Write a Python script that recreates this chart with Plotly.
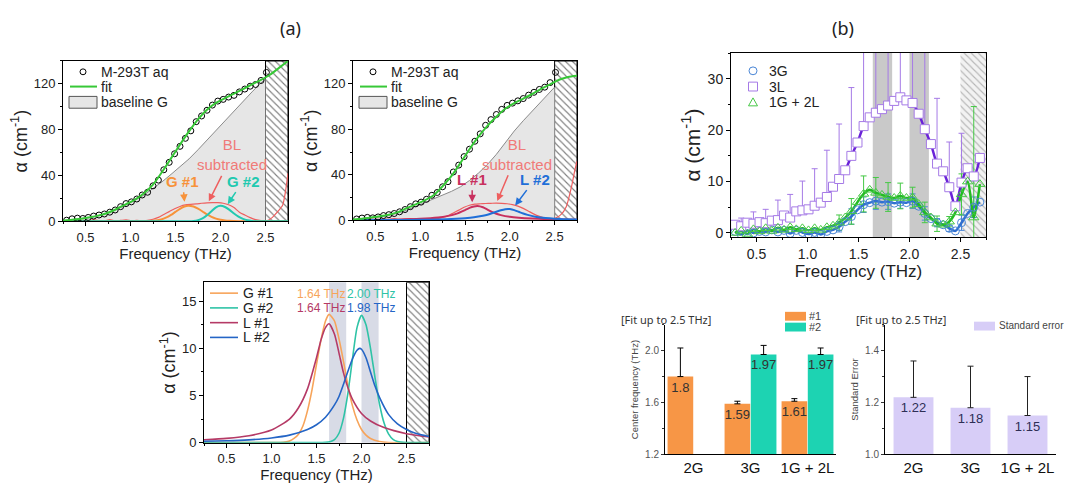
import plotly.graph_objects as go

W, H = 1077, 491
FONT = "Liberation Sans"

# ---------------- data ----------------
# measured absorption points (THz) for panels a1 / a2
freq_pts = [0.29, 0.35, 0.41, 0.47, 0.53, 0.59, 0.65, 0.71, 0.77, 0.83, 0.89, 0.95,
            1.01, 1.07, 1.13, 1.19, 1.25, 1.31, 1.37, 1.43, 1.49, 1.55, 1.61, 1.67,
            1.73, 1.79, 1.85, 1.91, 1.97, 2.03, 2.09, 2.15, 2.21, 2.27, 2.33, 2.39,
            2.45, 2.51]
a1_data = [1.0, 2.2, 2.8, 2.5, 3.4, 4.6, 5.5, 6.4, 8.0, 9.9, 12.8, 15.5,
           17.0, 19.5, 23.0, 25.4, 31.0, 36.0, 45.0, 51.5, 59.0, 65.5, 72.5, 79.0,
           87.0, 92.0, 97.0, 101.5, 105.0, 106.5, 108.5, 110.0, 113.0, 115.5, 118.0, 119.5,
           123.0, 130.0]
a2_data = [1.2, 2.0, 2.6, 2.2, 3.0, 4.2, 5.0, 6.0, 7.5, 9.5, 12.0, 14.5,
           16.0, 18.5, 22.0, 24.5, 29.5, 34.0, 42.5, 48.5, 56.0, 62.5, 69.5, 76.0,
           83.5, 88.5, 93.0, 97.5, 101.0, 103.0, 105.0, 107.0, 110.0, 112.5, 115.0, 117.0,
           121.0, 130.0]

fit_freq = [0.25, 0.35, 0.45, 0.55, 0.65, 0.75, 0.85, 0.95, 1.05, 1.15, 1.25, 1.35, 1.45,
            1.55, 1.65, 1.75, 1.85, 1.95, 2.05, 2.15, 2.25, 2.35, 2.45, 2.55, 2.65, 2.75]
a1_fit = [0.5, 1.3, 2.3, 3.5, 5.2, 7.5, 11.0, 15.0, 19.0, 24.5, 32.0, 43.0, 55.0,
          67.0, 78.5, 89.0, 97.5, 103.5, 107.5, 111.5, 115.5, 119.5, 123.5, 128.0, 134.0, 140.0]
a2_fit = [0.8, 1.5, 2.5, 3.6, 5.0, 7.2, 10.8, 14.0, 17.5, 22.0, 30.0, 39.0, 50.5,
          62.5, 73.5, 83.0, 91.0, 98.0, 103.0, 107.0, 111.0, 115.5, 119.5, 123.5, 126.0, 127.0]

base_freq = [0.25, 0.35, 0.45, 0.55, 0.65, 0.75, 0.85, 0.95, 1.05, 1.15, 1.25, 1.35, 1.45,
             1.55, 1.65, 1.75, 1.85, 1.95, 2.05, 2.15, 2.25, 2.35, 2.45, 2.5]
a1_base = [0.3, 1.2, 2.2, 3.4, 5.0, 7.2, 10.5, 14.3, 18.3, 23.0, 28.5, 34.5, 41.0,
           47.5, 54.5, 62.5, 71.0, 79.5, 88.0, 96.5, 105.0, 113.0, 121.0, 124.5]
a2_base = [0.5, 1.2, 2.0, 3.0, 4.4, 6.3, 9.0, 12.3, 15.5, 18.8, 22.0, 25.5, 29.5,
           35.0, 41.5, 49.0, 58.0, 68.5, 78.5, 87.5, 96.0, 104.5, 113.0, 117.0]

bl_freq = freq_pts + [2.57, 2.63, 2.69, 2.72, 2.75]
a1_bl = [0.5, 0.3, 0.2, 0.8, 0.3, 1.5, 0.6, 0.3, 1.6, 0.4, 0.8, 1.3,
         0.6, 0.8, 0.4, 0.9, 1.8, 3.5, 6.0, 8.5, 11.0, 13.0, 14.3, 14.8,
         15.2, 15.8, 16.2, 16.4, 16.3, 15.8, 14.5, 12.0, 8.0, 5.5, 3.2, 1.5,
         0.6, 0.4, 3.0, 8.0, 14.0, 25.0, 42.0]
a2_bl = [0.2, 0.6, 0.1, 0.9, 0.2, 1.2, 0.5, 1.6, 0.4, 1.0, 1.5, 0.8,
         1.2, 0.6, 1.4, 1.6, 2.5, 4.0, 6.5, 9.0, 11.5, 13.3, 14.3, 14.6,
         14.8, 15.0, 15.2, 15.0, 14.6, 13.8, 12.5, 10.5, 8.0, 5.5, 3.5, 2.0,
         1.2, 2.0, 5.0, 12.0, 30.0, 42.0, 52.0]

# fitted components (shared by a1/a2/a3)
g1_freq = [0.25, 1.0, 1.1, 1.15, 1.2, 1.25, 1.3, 1.35, 1.4, 1.45, 1.5, 1.55, 1.6, 1.64,
           1.7, 1.75, 1.8, 1.85, 1.9, 1.95, 2.0, 2.05, 2.1, 2.2, 2.3, 2.75]
g1_vals = [0.0, 0.0, 0.02, 0.06, 0.18, 0.45, 0.9, 1.8, 3.4, 5.6, 8.3, 10.9, 12.9, 13.6,
           12.9, 11.0, 8.6, 6.0, 3.9, 2.4, 1.4, 0.8, 0.45, 0.12, 0.02, 0.0]
g2_freq = [0.25, 1.5, 1.6, 1.65, 1.7, 1.75, 1.8, 1.85, 1.9, 1.95, 2.0, 2.05, 2.1, 2.15,
           2.2, 2.25, 2.3, 2.35, 2.4, 2.5, 2.6, 2.75]
g2_vals = [0.0, 0.0, 0.03, 0.1, 0.33, 1.0, 2.6, 5.3, 8.9, 12.2, 13.5, 12.5, 10.0, 6.9,
           4.1, 2.1, 0.94, 0.36, 0.12, 0.01, 0.0, 0.0]
l1_freq = [0.25, 0.5, 0.75, 1.0, 1.2, 1.3, 1.4, 1.5, 1.55, 1.6, 1.64, 1.7, 1.75, 1.8,
           1.85, 1.9, 2.0, 2.1, 2.25, 2.5, 2.75]
l1_vals = [0.31, 0.46, 0.74, 1.34, 2.5, 3.7, 5.7, 9.0, 10.9, 12.2, 12.6, 11.5, 9.5, 7.4,
           5.8, 4.6, 3.1, 2.3, 1.6, 0.95, 0.6]
l2_freq = [0.25, 0.5, 0.75, 1.0, 1.2, 1.4, 1.5, 1.6, 1.7, 1.75, 1.8, 1.85, 1.9, 1.95,
           1.98, 2.0, 2.05, 2.1, 2.15, 2.2, 2.3, 2.4, 2.5, 2.6, 2.75]
l2_vals = [0.15, 0.2, 0.3, 0.5, 0.8, 1.4, 1.9, 2.7, 4.0, 4.9, 6.2, 7.6, 8.9, 9.8,
           10.0, 9.9, 9.0, 7.5, 6.0, 4.8, 3.0, 2.0, 1.4, 1.0, 0.65]

# panel b1: residual spectra
b_freq = freq_pts + [2.57, 2.63, 2.69]
b_3l = [1.6, 1.3, 2.0, 1.8, 2.1, 1.9, 2.4, 2.5, 3.4, 3.0, 4.2, 4.4,
        4.6, 5.3, 5.9, 7.0, 9.0, 10.5, 12.2, 15.0, 17.6, 20.8, 22.5, 23.4,
        24.1, 24.8, 25.7, 26.4, 25.8, 25.3, 23.2, 20.2, 17.3, 13.5, 12.0, 8.9,
        5.2, 9.8, 12.6, 11.0, 14.6]
b_3g = [0.3, -0.3, 0.5, 0.0, 0.3, 0.2, 0.6, 0.2, 0.5, -0.1, 0.5, 0.1,
        -0.2, 0.1, -0.3, 0.3, 0.6, 1.2, 2.2, 3.2, 4.5, 5.5, 5.9, 6.2,
        6.0, 6.1, 5.8, 6.0, 5.9, 6.2, 5.2, 3.8, 2.8, 2.0, 1.6, 0.9,
        0.4, 2.0, 3.8, 5.0, 6.0]
b_1g2l = [0.0, 0.4, -0.2, 0.7, 0.3, 0.9, 0.4, 1.0, 0.6, 1.1, 0.7, 0.9,
          0.5, 0.9, 0.6, 1.1, 1.4, 2.0, 3.0, 4.2, 6.0, 7.6, 8.4, 7.8,
          7.4, 7.0, 6.8, 7.2, 6.8, 6.9, 5.6, 4.0, 3.0, 1.8, 1.6, 2.2,
          4.0, 7.5, 10.0, 3.0, 9.5]
b_3l_err = [0, 1.6, 0, 2.3, 0, 2.7, 0, 3.9, 0, 4.5, 0, 5.7,
            0, 7.2, 0, 9.1, 0, 10.7, 0, 13.3, 0, 30, 0, 30,
            0, 30, 0, 30, 0, 30, 0, 30, 0, 12.7, 0, 8.8,
            0, 9.6, 0, 0, 0]
b_3g_err = [0, 0, 0, 0, 0, 0, 0, 0, 0, 0, 0, 0,
            0, 0, 0, 0, 0, 1.0, 0, 1.5, 0, 1.5, 0, 1.6,
            0, 1.5, 0, 1.2, 0, 1.4, 0, 1.3, 0, 0.8, 0, 0.6,
            0, 1.5, 0, 2.0, 0]
b_1g2l_err = [0, 0, 0, 0, 0, 0, 0, 0, 0, 0, 0, 0,
              0, 0, 0, 0, 0, 1.5, 0, 2.5, 0, 3.5, 0, 3.0,
              0, 2.8, 0, 2.5, 0, 2.0, 0, 2.0, 0, 1.5, 0, 1.0,
              0, 4.0, 0, 21.6, 0]

band_lo = [1.64, 2.00]
band_hi = [1.83, 2.19]
hatch_lo, hatch_hi = 2.5, 2.75

# bar panels
groups = ["2G", "3G", "1G + 2L"]
center_p1 = [1.80, 1.59, 1.61]
center_p1_err = [0.22, 0.02, 0.02]
center_p2 = [None, 1.97, 1.97]
center_p2_err = [0, 0.07, 0.05]
std_err = [1.22, 1.18, 1.15]
std_err_err = [0.14, 0.16, 0.15]

# ---------------- colours ----------------
GREEN_FIT = "#37C837"
BASE_FILL = "#E6E6E6"
BASE_LINE = "#8A8A8A"
RED_BL = "#EE5F5F"
ORANGE = "#F7923A"
TEAL = "#22C9B0"
CRIMSON = "#C8305E"
BLUE = "#1F6FD8"
ORANGE3 = "#F7A45A"
TEAL3 = "#2FC3A6"
CRIMSON3 = "#B53A66"
BLUE3 = "#2465C6"
BAR_OR = "#F79646"
BAR_TE = "#1DD3B2"
BAR_LAV = "#D7CDF7"
SALMON = "#F07A78"

fig = go.Figure()


def dom_x(a, b):
    return [a / W, b / W]


def dom_y(top, bottom):
    return [1 - bottom / H, 1 - top / H]


def hatch(xa, ya, top, bottom=0.0, fg="black", bg="white", border=1):
    fig.add_trace(go.Bar(x=[hatch_lo], y=[top - bottom], base=[bottom], width=[hatch_hi - hatch_lo],
                         offset=0, xaxis=xa, yaxis=ya, showlegend=False, hoverinfo="skip",
                         marker=dict(color=bg, line=dict(color="black", width=border),
                                     pattern=dict(shape="\\", fgcolor=fg, bgcolor=bg,
                                                  size=5, solidity=0.22))))


def top_panel(xa, ya, data, fit, base, bl, comps):
    hatch(xa, ya, 140)
    fig.add_trace(go.Scatter(x=base_freq, y=base, xaxis=xa, yaxis=ya, mode="lines",
                             fill="tozeroy", fillcolor=BASE_FILL,
                             line=dict(color=BASE_LINE, width=1), hoverinfo="skip"))
    fig.add_trace(go.Scatter(x=bl_freq, y=bl, xaxis=xa, yaxis=ya, mode="lines",
                             line=dict(color=RED_BL, width=1.2, shape="spline", smoothing=0.6),
                             hoverinfo="skip"))
    for fx, fy, col in comps:
        fig.add_trace(go.Scatter(x=fx, y=fy, xaxis=xa, yaxis=ya, mode="lines",
                                 line=dict(color=col, width=2, shape="spline", smoothing=0.6),
                                 hoverinfo="skip"))
    fig.add_trace(go.Scatter(x=freq_pts, y=data, xaxis=xa, yaxis=ya, mode="markers",
                             marker=dict(symbol="circle-open", size=6, color="black",
                                         line=dict(width=1)), hoverinfo="skip"))
    fig.add_trace(go.Scatter(x=fit_freq, y=fit, xaxis=xa, yaxis=ya, mode="lines",
                             line=dict(color=GREEN_FIT, width=2, shape="spline", smoothing=0.6),
                             hoverinfo="skip"))


top_panel("x", "y", a1_data, a1_fit, a1_base, a1_bl,
          [(g1_freq, g1_vals, ORANGE), (g2_freq, g2_vals, TEAL)])
top_panel("x2", "y2", a2_data, a2_fit, a2_base, a2_bl,
          [(l1_freq, l1_vals, CRIMSON), (l2_freq, l2_vals, BLUE)])

# ---- a3 components ----
hatch("x3", "y3", 17)
a3_series = [(g1_freq, g1_vals, ORANGE3, "G #1"), (g2_freq, g2_vals, TEAL3, "G #2"),
             (l1_freq, l1_vals, CRIMSON3, "L #1"), (l2_freq, l2_vals, BLUE3, "L #2")]
for fx, fy, col, nm in a3_series:
    fig.add_trace(go.Scatter(x=fx, y=fy, xaxis="x3", yaxis="y3", mode="lines", name=nm,
                             line=dict(color=col, width=1.6, shape="spline", smoothing=0.6),
                             hoverinfo="skip"))

# ---- b1 residuals ----
hatch("x4", "y4", 35, -0.8, fg="#7A7A7A", bg="#F2F2F2", border=0)
series_b = [
    ("3G", b_3g, b_3g_err, "#4A86D6", "#2F6FD0", "circle-open", 8, True),
    ("3L", b_3l, b_3l_err, "#A57AE6", "#6A22D8", "square", 9, False),
    ("1G + 2L", b_1g2l, b_1g2l_err, "#45C845", "#22BB22", "triangle-up-open", 9, True),
]
for nm, vals, errs, mcol, lcol, sym, sz, symm in series_b:
    ex = [f for f, e in zip(b_freq, errs) if e]
    ey = [v for v, e in zip(vals, errs) if e]
    ee = [e for e in errs if e]
    fig.add_trace(go.Scatter(x=ex, y=ey, xaxis="x4", yaxis="y4", mode="markers",
                             marker=dict(size=1, opacity=0), hoverinfo="skip",
                             error_y=dict(type="data", array=ee,
                                          arrayminus=ee if symm else [0] * len(ee),
                                          symmetric=False, color=mcol, thickness=1, width=3)))
for nm, vals, errs, mcol, lcol, sym, sz, symm in series_b:
    fig.add_trace(go.Scatter(x=b_freq, y=vals, xaxis="x4", yaxis="y4", mode="lines",
                             line=dict(color=lcol, width=2.5, shape="spline", smoothing=0.8),
                             hoverinfo="skip"))
for nm, vals, errs, mcol, lcol, sym, sz, symm in series_b:
    fig.add_trace(go.Scatter(x=b_freq, y=vals, xaxis="x4", yaxis="y4", mode="markers", name=nm,
                             marker=dict(symbol=sym, size=sz, color="white" if sym == "square" else mcol,
                                         line=dict(color=mcol, width=1)),
                             hoverinfo="skip"))

# ---- b2 center frequency bars ----
bar_txt = dict(textposition="inside", insidetextanchor="end", textangle=0, constraintext="none")
fig.add_trace(go.Bar(x=groups, y=center_p1, xaxis="x5", yaxis="y5", name="#1",
                     marker=dict(color=BAR_OR, line=dict(width=0)), width=0.45, offset=-0.455,
                     text=[f"{v:g}" for v in center_p1],
                     textfont=dict(color="#333333", size=13, family=FONT),
                     error_y=dict(type="data", array=center_p1_err, arrayminus=[0] * 3,
                                  symmetric=False, color="black", thickness=1, width=3),
                     hoverinfo="skip", **bar_txt))
fig.add_trace(go.Bar(x=groups, y=center_p2, xaxis="x5", yaxis="y5", name="#2",
                     marker=dict(color=BAR_TE, line=dict(width=0)), width=0.45, offset=0.005,
                     text=["" if v is None else f"{v:g}" for v in center_p2],
                     textfont=dict(color="#333333", size=13, family=FONT),
                     error_y=dict(type="data", array=center_p2_err, arrayminus=[0] * 3,
                                  symmetric=False, color="black", thickness=1, width=3),
                     hoverinfo="skip", **bar_txt))
# ---- b3 standard error bars ----
fig.add_trace(go.Bar(x=groups, y=std_err, xaxis="x6", yaxis="y6", name="Standard error",
                     marker=dict(color=BAR_LAV, line=dict(width=0)), width=0.7,
                     text=[f"{v:g}" for v in std_err],
                     textfont=dict(color="#2E2E55", size=13, family=FONT),
                     error_y=dict(type="data", array=std_err_err, arrayminus=[0] * 3,
                                  symmetric=False, color="#222222", thickness=1, width=3),
                     hoverinfo="skip", **bar_txt))

# ---------------- axes ----------------
ALPHA = "α (cm<sup>-1</sup>)"


def freq_axis(dom, anchor, size=13, tsize=15, standoff=2):
    return dict(domain=dom, anchor=anchor, range=[0.25, 2.75], tickmode="linear", tick0=0.5,
                dtick=0.5, tickformat=".1f", ticks="outside", ticklen=4, tickcolor="black",
                minor=dict(ticks="outside", ticklen=2, dtick=0.25, tick0=0.25, tickcolor="black"),
                showline=True, linecolor="black", linewidth=1, mirror=True, showgrid=False,
                zeroline=False, tickfont=dict(size=size, color="#222"),
                title=dict(text="Frequency (THz)", font=dict(size=tsize, color="#222"), standoff=standoff))


def val_axis(dom, anchor, rng, dtick, minor, size=13, tsize=18, standoff=1, tick0=0):
    return dict(domain=dom, anchor=anchor, range=rng, tickmode="linear", tick0=tick0, dtick=dtick,
                ticks="outside", ticklen=4, tickcolor="black",
                minor=dict(ticks="outside", ticklen=2, dtick=minor, tickcolor="black"),
                showline=True, linecolor="black", linewidth=1, mirror=True, showgrid=False,
                zeroline=False, tickfont=dict(size=size, color="#222"),
                title=dict(text=ALPHA, font=dict(size=tsize, color="#222"), standoff=standoff))


def bar_y(dom, anchor, rng, dtick, title):
    return dict(domain=dom, anchor=anchor, range=rng, tickmode="linear", tick0=rng[0], dtick=dtick,
                tickformat=".1f", ticks="outside", ticklen=3, tickcolor="#333",
                minor=dict(ticks="outside", ticklen=2, dtick=dtick / 2, tickcolor="#333"),
                showline=True, linecolor="black", linewidth=1, showgrid=False, zeroline=False,
                tickfont=dict(size=10, color="#555"),
                title=dict(text=title, font=dict(size=9.5, color="#444"), standoff=4))


def bar_x(dom, anchor):
    return dict(domain=dom, anchor=anchor, type="category", range=[-0.5, 2.5], showline=True,
                linecolor="black", linewidth=1, ticks="", showgrid=False,
                tickfont=dict(size=15, color="#111"))


layout = dict(
    width=W, height=H, margin=dict(l=0, r=0, t=0, b=0), paper_bgcolor="white",
    plot_bgcolor="rgba(0,0,0,0)", font=dict(family=FONT, color="#222"), showlegend=False,
    uniformtext=dict(minsize=12, mode="show"),
    xaxis=freq_axis(dom_x(63, 288), "y"),
    yaxis=val_axis(dom_y(62, 225), "x", [0, 140], 40, 20),
    xaxis2=freq_axis(dom_x(353, 577), "y2"),
    yaxis2=val_axis(dom_y(62, 224), "x2", [0, 140], 40, 20),
    xaxis3=freq_axis(dom_x(204, 429), "y3"),
    yaxis3=val_axis(dom_y(287, 450), "x3", [0, 17], 5, 2.5),
    xaxis4=freq_axis(dom_x(731, 986), "y4", size=14, tsize=17),
    yaxis4=val_axis(dom_y(54, 241), "x4", [-0.8, 35], 10, 5, size=14, tsize=21),
    xaxis5=bar_x(dom_x(665, 836), "y5"),
    yaxis5=bar_y(dom_y(330, 462), "x5", [1.2, 2.2], 0.4, "Center frequency (THz)"),
    xaxis6=bar_x(dom_x(885, 1056), "y6"),
    yaxis6=bar_y(dom_y(330, 462), "x6", [1.0, 1.5], 0.2, "Standard Error"),
)

# shaded peak bands (a3, b1)
shapes = []
for lo, hi in zip(band_lo, band_hi):
    shapes.append(dict(type="rect", xref="x3", yref="y3 domain", x0=lo, x1=hi, y0=0, y1=1,
                       fillcolor="#D8DBE6", line=dict(width=0), layer="below"))
    shapes.append(dict(type="rect", xref="x4", yref="y4 domain", x0=lo, x1=hi, y0=0, y1=1,
                       fillcolor="#C9C9C9", line=dict(width=0), layer="below"))

ann = []


def lab(text, x, y, xr, yr, color, size=15, family=FONT, **kw):
    d = dict(text=text, x=x, y=y, xref=xr, yref=yr, showarrow=False, xanchor="center",
             yanchor="middle", font=dict(size=size, color=color, family=family))
    d.update(kw)
    ann.append(d)


def arrow_lab(text, tx, ty, hx, hy, xr, yr, color, acolor=None, size=15):
    # label centred at (tx, ty) with an arrow pointing to (hx, hy)
    ann.append(dict(text=text, x=hx, y=hy, ax=tx, ay=ty, xref=xr, yref=yr, axref=xr, ayref=yr,
                    showarrow=True, arrowhead=2, arrowsize=1, arrowwidth=1.5,
                    arrowcolor=acolor or color, standoff=0, startstandoff=1,
                    font=dict(size=size, color=color, family=FONT)))


# ---- hand-built legends (pixel positions) ----
def px(x):
    return x / W


def py(y):
    return 1 - y / H


def leg_text(text, x, y, size=14, color="#222"):
    lab(text, px(x), py(y), "paper", "paper", color, size=size, xanchor="left")


def leg_line(x0, x1, y, color, width=2):
    shapes.append(dict(type="line", xref="paper", yref="paper", x0=px(x0), x1=px(x1),
                       y0=py(y), y1=py(y), line=dict(color=color, width=width)))


def leg_rect(x0, x1, y0, y1, fill, line_col=None):
    shapes.append(dict(type="rect", xref="paper", yref="paper", x0=px(x0), x1=px(x1),
                       y0=py(y1), y1=py(y0), fillcolor=fill,
                       line=dict(color=line_col or fill, width=1 if line_col else 0)))


def leg_circle(cx, cy, r, color, fill="rgba(0,0,0,0)"):
    shapes.append(dict(type="circle", xref="paper", yref="paper", x0=px(cx - r), x1=px(cx + r),
                       y0=py(cy + r), y1=py(cy - r), fillcolor=fill, line=dict(color=color, width=1)))


def leg_square(cx, cy, r, color):
    leg_rect(cx - r, cx + r, cy - r, cy + r, "white", color)


def leg_triangle(cx, cy, r, color):
    path = (f"M {px(cx - r)},{py(cy + r * 0.8)} L {px(cx + r)},{py(cy + r * 0.8)} "
            f"L {px(cx)},{py(cy - r)} Z")
    shapes.append(dict(type="path", xref="paper", yref="paper", path=path,
                       line=dict(color=color, width=1)))


for off in (0, 290):
    leg_circle(83 + off, 73, 3, "black")
    leg_text("M-293T aq", 99 + off, 73)
    leg_line(70 + off, 97 + off, 88, GREEN_FIT, 2)
    leg_text("fit", 99 + off, 88)
    leg_rect(69 + off, 97 + off, 98, 110, BASE_FILL, "#555555")
    leg_text("baseline G", 99 + off, 104)

for i, (fx, fy, col, nm) in enumerate(a3_series):
    yy = 298 + 15 * i
    leg_line(210, 238, yy, col, 1.6)
    leg_text(nm, 241, yy, size=14)

for i, (nm, vals, errs, mcol, lcol, sym, sz, symm) in enumerate(series_b):
    yy = 72 + 16 * i
    if sym.startswith("circle"):
        leg_circle(753, yy, 4, mcol)
    elif sym == "square":
        leg_square(753, yy, 4.5, mcol)
    else:
        leg_triangle(753, yy, 4.5, mcol)
    leg_text(nm, 767, yy, size=14)

leg_rect(785, 806, 317, 326, BAR_OR)
leg_text("#1", 807, 321, size=11, color="#444")
leg_rect(785, 806, 328, 337, BAR_TE)
leg_text("#2", 807, 332, size=11, color="#444")
leg_rect(974, 995, 327, 336, BAR_LAV)
leg_text("Standard error", 997, 331, size=10, color="#444")

# a1 annotations
arrow_lab("<b>G #1</b>", 1.58, 35, 1.60, 17, "x", "y", ORANGE)
arrow_lab("BL<br>subtracted", 2.13, 58, 1.87, 17.5, "x", "y", SALMON, RED_BL)
arrow_lab("<b>G #2</b>", 2.25, 35, 2.08, 15, "x", "y", TEAL)
# a2 annotations
arrow_lab("<b>L #1</b>", 1.58, 36, 1.58, 16, "x2", "y2", CRIMSON)
arrow_lab("BL<br>subtracted", 2.08, 58, 1.86, 17, "x2", "y2", SALMON, RED_BL)
arrow_lab("<b>L #2</b>", 2.28, 36, 2.06, 13, "x2", "y2", BLUE)
# a3 peak positions
lab("1.64 THz", 1.55, 15.8, "x3", "y3", ORANGE3, size=12)
lab("2.00 THz", 2.11, 15.8, "x3", "y3", TEAL3, size=12)
lab("1.64 THz", 1.55, 14.3, "x3", "y3", CRIMSON3, size=12)
lab("1.98 THz", 2.11, 14.3, "x3", "y3", BLUE3, size=12)
# panel titles and notes
lab("(a)", px(290), py(28), "paper", "paper", "#222", size=18, family="Noto Sans")
lab("(b)", px(843), py(28), "paper", "paper", "#222", size=18, family="Noto Sans")
lab("[Fit up to 2.5 THz]", px(666), py(325), "paper", "paper", "#333", size=11, family="Noto Sans")
lab("[Fit up to 2.5 THz]", px(901), py(325), "paper", "paper", "#333", size=11, family="Noto Sans")

layout["shapes"] = shapes
layout["annotations"] = ann

fig.update_layout(**layout)
fig.write_html("out.html", config={"displayModeBar": False},
               post_script="document.body.style.margin='0';document.body.style.overflow='hidden';")
